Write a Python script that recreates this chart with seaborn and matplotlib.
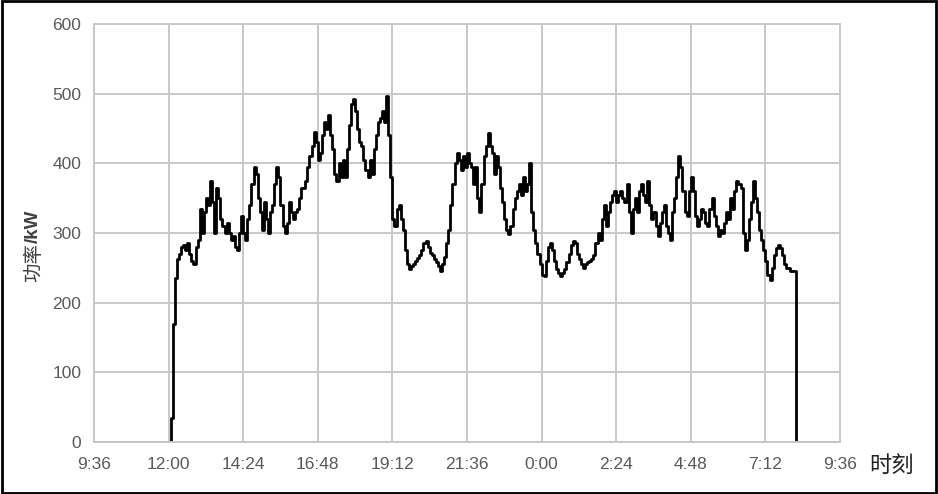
import numpy as np
import pandas as pd
import matplotlib.pyplot as plt
import seaborn as sns
from matplotlib.patches import Rectangle

# charging power samples, every 4 minutes starting 12:04
start_time = "2023-05-01 12:04"
sample_step = "4min"
power_kw = [
    35, 170, 235, 262, 270, 280, 283, 275, 285, 270, 260, 255, 280, 290, 335, 300,
    330, 350, 340, 375, 345, 300, 365, 350, 320, 310, 300, 315, 300, 290, 295, 280,
    275, 300, 325, 300, 290, 320, 340, 370, 395, 385, 350, 330, 305, 345, 320, 300,
    330, 340, 370, 395, 380, 340, 310, 300, 315, 345, 330, 320, 330, 335, 350, 365,
    365, 375, 395, 410, 425, 445, 430, 405, 415, 440, 460, 450, 470, 440, 420, 385,
    375, 400, 380, 405, 380, 420, 455, 485, 492, 475, 450, 430, 425, 405, 390, 380,
    405, 385, 420, 440, 460, 465, 475, 460, 497, 440, 380, 320, 310, 335, 340, 320,
    305, 275, 255, 248, 252, 256, 260, 264, 268, 275, 285, 288, 280, 272, 268, 262,
    258, 252, 246, 255, 265, 285, 305, 340, 370, 400, 415, 405, 390, 410, 395, 415,
    400, 395, 370, 395, 350, 330, 370, 410, 425, 443, 425, 415, 385, 410, 395, 365,
    345, 320, 305, 298, 310, 335, 350, 360, 370, 355, 380, 360, 370, 400, 330, 305,
    285, 270, 255, 240, 238, 260, 280, 285, 275, 260, 248, 242, 238, 242, 248, 258,
    270, 283, 288, 285, 270, 262, 255, 250, 255, 258, 260, 262, 268, 285, 300, 290,
    320, 340, 310, 330, 345, 355, 360, 345, 355, 360, 350, 345, 370, 330, 300, 335,
    350, 330, 360, 370, 355, 345, 375, 340, 320, 330, 310, 295, 315, 330, 340, 310,
    300, 290, 330, 350, 380, 410, 395, 360, 330, 325, 360, 380, 360, 325, 310, 320,
    335, 330, 315, 310, 335, 350, 325, 310, 295, 305, 300, 315, 330, 320, 350, 335,
    360, 375, 370, 365, 300, 275, 290, 320, 345, 375, 350, 330, 305, 290, 275, 260,
    240, 232, 250, 268, 278, 283, 278, 268, 255, 250, 250, 246, 245, 245,
]
# idle (zero power) before and after the session
idle_before = ["2023-05-01 09:36", "2023-05-01 12:00"]
idle_after = ["2023-05-02 08:12", "2023-05-02 09:36"]

tick_labels = ["9:36", "12:00", "14:24", "16:48", "19:12", "21:36",
               "0:00", "2:24", "4:48", "7:12", "9:36"]

times = list(pd.to_datetime(idle_before)) + list(pd.date_range(start_time, periods=len(power_kw), freq=sample_step)) + list(pd.to_datetime(idle_after))
values = [0, 0] + power_kw + [0, 0]
df = pd.DataFrame({"time": times, "power": values})
t0 = pd.Timestamp(idle_before[0])
df["hours"] = (df["time"] - t0).dt.total_seconds() / 3600

sns.set_style("whitegrid", {"grid.color": "#c8c8c8", "axes.edgecolor": "#c8c8c8"})
plt.rcParams["font.family"] = ["Liberation Sans", "DejaVu Sans"]

fig = plt.figure(figsize=(9.38, 4.94), dpi=100)
ax = fig.add_axes([0.1002, 0.1053, 0.7953, 0.8461])
sns.lineplot(data=df, x="hours", y="power", color="black", linewidth=2.0,
             drawstyle="steps-post", estimator=None, ax=ax)

ax.set_xlim(0, 24)
ax.set_ylim(0, 600)
ax.set_xticks(np.arange(0, 24.01, 2.4))
ax.set_xticklabels(tick_labels)
ax.set_yticks(range(0, 601, 100))
ax.grid(True, color="#c8c8c8", linewidth=1.4)
for s in ax.spines.values():
    s.set_color("#c8c8c8")
    s.set_linewidth(1.4)
ax.tick_params(axis="both", colors="#595959", labelsize=12.5, length=0)
ax.tick_params(axis="x", pad=11)
ax.tick_params(axis="y", pad=9)
ax.set_xlabel("")
ax.set_ylabel("")

# y label: "功率" plain, "/kW" bold, stacked vertically
cjk = ["Noto Sans CJK SC", "DejaVu Sans"]
fig.text(0.036, 0.508, "功率", rotation=90, ha="center", va="top",
         fontsize=14, color="#404040", family=cjk)
fig.text(0.036, 0.508, "/kW", rotation=90, ha="center", va="bottom",
         fontsize=13.5, color="#404040", fontweight="bold")
fig.text(0.95, 0.057, "时刻", ha="center", va="center", fontsize=16,
         color="#202020", family=cjk)

fig.patches.append(Rectangle((0.002, 0.003), 0.996, 0.994, transform=fig.transFigure,
                             fill=False, edgecolor="black", linewidth=2))

fig.savefig("out.png", dpi=100)
